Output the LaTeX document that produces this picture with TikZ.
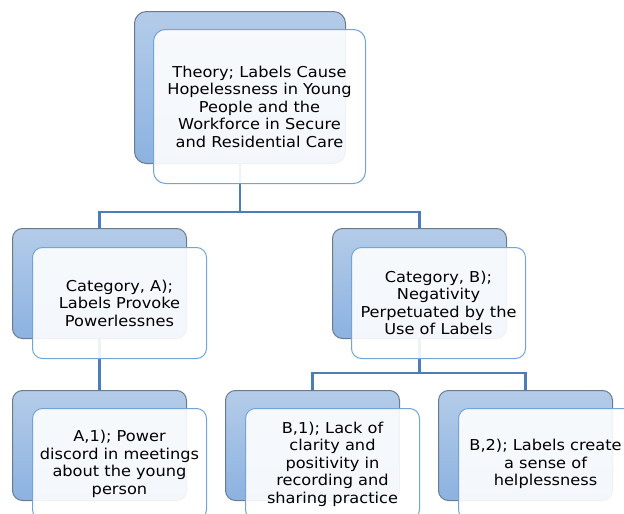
\documentclass[tikz,border=0pt]{standalone}
\usepackage{fontspec}
\newfontfamily\boxfont[FakeStretch=1.08]{DejaVu Sans}
\definecolor{backtop}{HTML}{B4CCE9}
\definecolor{backbot}{HTML}{8CB2E0}
\definecolor{backline}{HTML}{6B7A8C}
\definecolor{frontline}{HTML}{72A4DA}
\definecolor{linkblue}{HTML}{4A7EBB}
\tikzset{
  backbox/.style={rectangle, rounded corners=10pt, draw=backline, line width=1pt, top color=backtop, bottom color=backbot, minimum width=174pt, minimum height=110pt, inner sep=0pt, anchor=north west},
  frontbox/.style={rectangle, rounded corners=10pt, draw=frontline, line width=1pt, fill=white, fill opacity=0.9, text opacity=1, minimum width=174pt, minimum height=111pt, inner sep=0pt, anchor=north west, align=center, font=\boxfont\fontsize{15}{17.5}\selectfont},
  link/.style={draw=linkblue, line width=2.5pt}
}
\begin{document}
\begin{tikzpicture}[x=1pt, y=-1pt]
\useasboundingbox (0,0) rectangle (624,514);
\node[backbox, rounded corners=12pt, minimum width=211pt, minimum height=152pt] (theoryback) at (134,11) {};
\node[backbox] (catAback) at (12,228) {};
\node[backbox] (catBback) at (332,228) {};
\node[backbox] (aoneback) at (12,390) {};
\node[backbox] (boneback) at (225,390) {};
\node[backbox] (btwoback) at (438,390) {};

\draw[link] (theoryback.south) -- (theoryback.south |- 0,212) -| (catAback.north);
\draw[link] (theoryback.south |- 0,212) -| (catBback.north);
\draw[link] (catAback.south) -- (aoneback.north);
\draw[link] (catBback.south) -- (catBback.south |- 0,373) -| (boneback.north);
\draw[link] (catBback.south |- 0,373) -| (btwoback.north);

\node[frontbox, rounded corners=12pt, minimum width=212pt, minimum height=154pt] (theory) at (153,29) {Theory; Labels Cause\\Hopelessness in Young\\People and the\\Workforce in Secure\\and Residential Care};
\node[frontbox] (catA) at (32,247) {Category, A);\\Labels Provoke\\Powerlessnes};
\node[frontbox] (catB) at (351,247) {Category, B);\\Negativity\\Perpetuated by the\\Use of Labels};
\node[frontbox] (aone) at (32,408) {A,1); Power\\discord in meetings\\about the young\\person};
\node[frontbox] (bone) at (245,408) {B,1); Lack of\\clarity and\\positivity in\\recording and\\sharing practice};
\node[frontbox] (btwo) at (458,408) {B,2); Labels create\\a sense of\\helplessness};
\end{tikzpicture}
\end{document}
